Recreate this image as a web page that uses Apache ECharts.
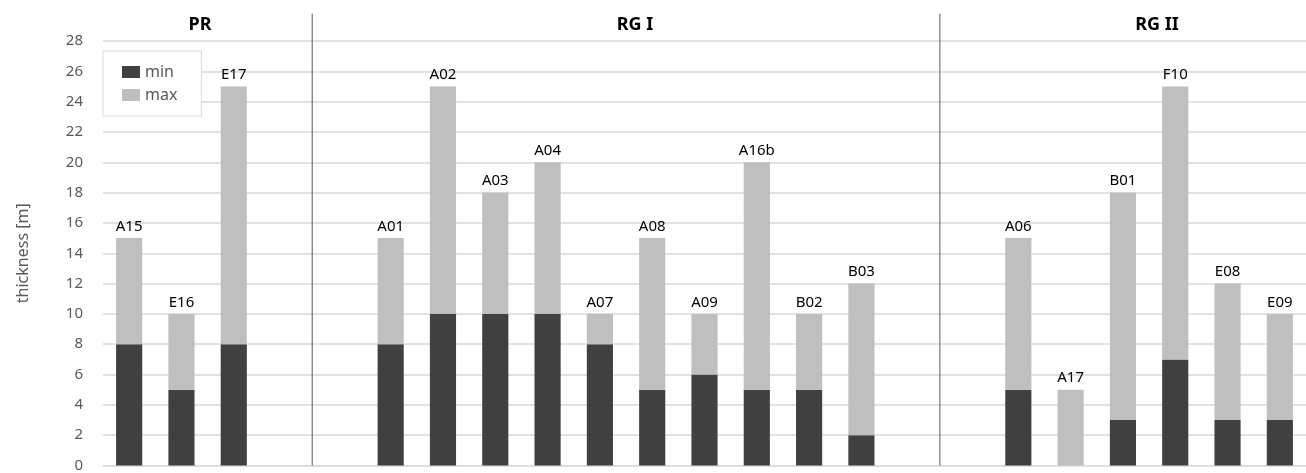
<!DOCTYPE html>
<html>
<head>
<meta charset="utf-8">
<script src="https://cdn.jsdelivr.net/npm/echarts@6/dist/echarts.min.js"></script>
<style>
html,body{margin:0;padding:0;background:#fff;}
#chart{width:1306px;height:473px;}
</style>
</head>
<body>
<div id="chart"></div>
<script>
// Categories (empty strings are gaps between groups)
const categories = ['A15','E16','E17','','','A01','A02','A03','A04','A07','A08','A09','A16b','B02','B03','','','A06','A17','B01','F10','E08','E09'];
// Minimum thickness [m]
const minValues = [8,5,8,null,null,8,10,10,10,8,5,6,5,5,2,null,null,5,0,3,7,3,3];
// Maximum thickness [m]
const maxValues = [15,10,25,null,null,15,25,18,20,10,15,10,20,10,12,null,null,15,5,18,25,12,10];
// Group names and the slot boundaries where the separators are drawn
const groupNames = ['PR','RG I','RG II'];
const groupBoundaries = [4, 16];
const yTicks = [0,2,4,6,8,10,12,14,16,18,20,22,24,26,28];
const separatorTop = 29.8;

const upperValues = maxValues.map((v,i) => v == null ? null : v - (minValues[i] || 0));

const chart = echarts.init(document.getElementById('chart'));
const font = 'Noto Sans';

const sepSeries = groupBoundaries.map(b => ({
  type: 'line',
  xAxisIndex: 1,
  yAxisIndex: 0,
  clip: false,
  silent: true,
  symbol: 'none',
  z: 1,
  lineStyle: { color: '#595959', width: 1 },
  data: [[b, 0], [b, separatorTop]]
}));

const titleX = [200, 635, 1157];

chart.setOption({
  animation: false,
  textStyle: { fontFamily: font },
  grid: { left: 103, top: 41, width: 1211, height: 425, containLabel: false },
  legend: {
    data: ['min','max'],
    orient: 'vertical',
    left: 103, top: 51,
    padding: [13, 24, 13, 19],
    itemGap: 7,
    itemWidth: 18, itemHeight: 12,
    icon: 'rect',
    backgroundColor: '#ffffff',
    borderColor: '#d9d9d9', borderWidth: 1,
    textStyle: { color: '#595959', fontSize: 16, fontFamily: font },
    z: 10
  },
  xAxis: [{
    type: 'category',
    data: categories,
    axisLine: { show: true, lineStyle: { color: '#d9d9d9' } },
    axisTick: { show: false },
    axisLabel: { show: false },
    splitLine: { show: false }
  }, {
    type: 'value',
    min: 0, max: categories.length,
    show: false
  }],
  yAxis: {
    type: 'value',
    min: 0, max: 28, interval: 2,
    name: 'thickness [m]',
    nameLocation: 'middle',
    nameGap: 72,
    nameTextStyle: { color: '#595959', fontSize: 16, fontFamily: font },
    axisLine: { show: false },
    axisTick: { show: false },
    axisLabel: { color: '#595959', fontSize: 15, margin: 20, fontFamily: font,
      formatter: v => yTicks.includes(v) ? String(v) : '' },
    splitLine: { lineStyle: { color: '#d9d9d9', width: 1.5 } }
  },
  graphic: groupNames.map((n,i) => ({
    type: 'text',
    x: titleX[i], y: 25,
    style: { text: n, align: 'center', verticalAlign: 'middle', fontSize: 18, fontWeight: 'bold', fill: '#000', fontFamily: font }
  })),
  series: [{
    name: 'min',
    type: 'bar',
    stack: 'total',
    barWidth: '50%',
    itemStyle: { color: '#404040' },
    data: minValues
  }, {
    name: 'max',
    type: 'bar',
    stack: 'total',
    barWidth: '50%',
    itemStyle: { color: '#bfbfbf' },
    label: {
      show: true, position: 'top', distance: 4,
      color: '#000', fontSize: 15, fontFamily: font,
      formatter: p => categories[p.dataIndex]
    },
    data: upperValues
  }].concat(sepSeries)
});
</script>
</body>
</html>
